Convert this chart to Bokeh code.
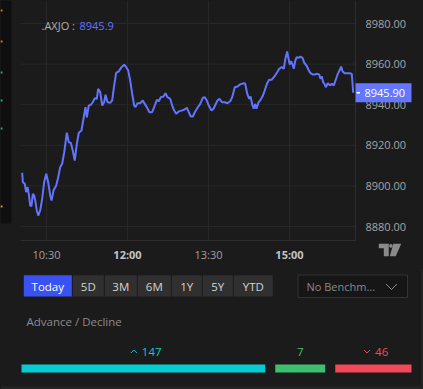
from bokeh.plotting import figure
from bokeh.models import Range1d, ColumnDataSource, GlobalInlineStyleSheet
from bokeh.layouts import column
from bokeh.core.properties import value
from bokeh.embed import file_html
from bokeh.resources import INLINE

# ---------------- data ----------------
symbol = ".AXJO"
last_price = 8945.90
# minutes after the 10:00 session open
minutes = [3.0, 3.7, 5.9, 7.4, 8.9, 10.3, 11.9, 13.3, 14.8, 16.3, 17.8, 19.2, 20.8, 23.0, 25.2,
           27.4, 29.7, 31.9, 34.1, 35.6, 37.8, 40.8, 43.0, 45.2, 47.4, 49.7, 52.6, 54.8, 57.0, 59.2,
           61.4, 63.7, 65.9, 68.9, 71.1, 73.3, 74.8, 77.0, 79.2, 81.4, 83.7, 85.9, 87.4, 89.7, 91.9,
           94.1, 95.6, 97.8, 100.8, 103.0, 105.2, 107.4, 110.3, 113.3, 116.3, 118.6,
           120.8, 123.0, 125.2, 127.4, 128.9, 131.1, 134.1, 137.0, 139.2, 141.4, 144.4, 147.4, 150.3,
           152.6, 154.8, 157.0, 160.0, 162.2, 164.4, 167.4, 169.7, 171.9, 174.1, 177.0, 180.0, 183.0,
           185.9, 188.1, 190.3, 192.6, 194.8, 197.8, 200.8, 203.7, 205.9, 208.1, 210.3, 213.3, 215.6,
           217.8, 220.0, 222.2, 225.2, 228.1, 231.1, 234.1, 236.3, 239.2, 242.2, 245.2,
           249.2, 250.8, 253.0, 255.2, 256.7, 258.9, 260.3, 261.9, 263.3, 265.6, 267.8, 270.0, 272.2,
           275.2, 277.4, 280.3, 283.3, 286.3, 288.6, 291.4, 293.7, 295.2, 297.4, 298.9, 300.3, 301.9,
           303.3, 304.8, 306.3, 307.8, 310.0, 312.2, 314.4, 316.7, 318.9, 321.1, 323.3, 325.6, 327.8,
           330.8, 333.0, 334.4, 335.9, 337.4, 338.9, 340.3, 342.6, 344.8, 347.0, 349.2, 351.4, 353.7,
           355.9, 357.4, 358.9, 361.1, 364.1, 367.0, 369.2, 370.8]
prices = [8906.5, 8901.8, 8901.0, 8896.9, 8899.4, 8896.1, 8890.3, 8890.0, 8896.1, 8895.3, 8892.0,
          8887.9, 8885.4, 8887.9, 8893.6, 8901.8, 8906.0, 8901.8, 8895.3, 8892.8, 8897.7, 8900.2,
          8904.3, 8909.2, 8910.9, 8916.6, 8926.2, 8921.5, 8921.2, 8917.4, 8912.5, 8920.7, 8926.2,
          8927.3, 8933.1, 8938.8, 8933.8, 8939.6, 8939.9, 8941.2, 8943.2, 8942.9, 8947.8, 8946.2,
          8939.6, 8941.2, 8944.9, 8941.2, 8940.9, 8942.1, 8949.5, 8955.7, 8956.4, 8958.5, 8959.7,
          8958.5,
          8956.8, 8951.9, 8945.4, 8939.6, 8938.8, 8940.7, 8940.7, 8942.1, 8940.4, 8938.8, 8936.3,
          8936.3, 8939.6, 8942.4, 8941.7, 8943.7, 8944.0, 8945.7, 8943.7, 8942.9, 8939.6, 8937.1,
          8935.5, 8936.7, 8937.1, 8937.5, 8938.5, 8936.3, 8934.2, 8934.2, 8936.3, 8938.5, 8940.4,
          8943.4, 8943.7, 8942.1, 8939.6, 8937.1, 8938.0, 8940.1, 8942.1, 8942.9, 8941.2, 8941.2,
          8940.7, 8941.7, 8943.7, 8948.6, 8949.0, 8950.0,
          8950.6, 8950.3, 8945.4, 8942.9, 8944.0, 8939.6, 8938.0, 8940.4, 8938.0, 8941.2, 8942.4,
          8944.0, 8946.7, 8950.6, 8952.3, 8952.3, 8953.9, 8956.0, 8957.7, 8958.5, 8957.7, 8962.1,
          8966.2, 8962.6, 8959.8, 8961.4, 8959.8, 8957.7, 8961.4, 8963.4, 8963.1, 8963.7, 8963.1,
          8960.4, 8959.3, 8957.2, 8955.5, 8954.9, 8954.9, 8955.2, 8954.9, 8952.8, 8953.9, 8951.1,
          8950.3, 8948.6, 8950.6, 8949.5, 8950.3, 8949.5, 8952.3, 8955.2, 8957.2, 8958.8, 8956.5,
          8955.5, 8955.5, 8955.5, 8955.2, 8945.9]
time_ticks = [30, 120, 210, 300]
time_labels = ["10:30", "12:00", "13:30", "15:00"]
time_bold = [False, True, False, True]
price_ticks = [8880, 8900, 8920, 8940, 8960, 8980]
periods = ["Today", "5D", "3M", "6M", "1Y", "5Y", "YTD"]
ad_names = ["advance", "unchanged", "decline"]
ad_values = [147, 7, 46]

# ---------------- styles ----------------
FONT = "Open Sans"
BG = "#1b1b1b"
GRID = "#272727"
BORDER = "#2e2e2e"
LINE = "#6274ff"
TAG = "#6677ff"
AXIS_TXT = "#a6a6a6"
AD_COLORS = ["#06cdd3", "#3dbf6f", "#f2495b"]
W = 423

# screen layout of the chart panel: 10:00 sits at 19px, 0.9 px per minute;
# 8980 sits at 23px, 2.03 px per index point
X0_PX, PX_PER_MIN = 19.0, 0.9
Y0_PX, Y0_VAL, PX_PER_PT = 23.0, 8980.0, 2.03


def mx(px):
    return (px - X0_PX) / PX_PER_MIN


def vy(py):
    return Y0_VAL - (py - Y0_PX) / PX_PER_PT


H1 = 268
CHART_LEFT, CHART_RIGHT = mx(20), mx(355)
CHART_FLOOR, CHART_TOP = vy(240), vy(0)

p = figure(width=W, height=H1, x_range=Range1d(mx(0), mx(W)), y_range=Range1d(vy(H1), vy(0)),
           output_backend="svg", toolbar_location=None, x_axis_location=None,
           y_axis_location=None, min_border=0, background_fill_color=BG,
           border_fill_color=BG, outline_line_color=None)
p.xgrid.visible = False
p.ygrid.visible = False

# neighbouring panel strip on the far left
p.quad(left=[mx(0)], right=[mx(11)], top=[vy(0)], bottom=[vy(223)], fill_color="#0f0f0f",
       line_color=None)
mark_y = [10, 41, 72, 100, 128, 206]
mark_c = ["#d9791c", "#d9791c", "#1fb866", "#1fb866", "#1fb866", "#c9a227"]
p.quad(left=[mx(0)] * 6, right=[mx(2)] * 6, top=[vy(y - 1) for y in mark_y],
       bottom=[vy(y + 1) for y in mark_y], fill_color=mark_c, line_color=None)

# grid
p.segment(x0=[CHART_LEFT] * len(price_ticks), y0=price_ticks,
          x1=[CHART_RIGHT] * len(price_ticks), y1=price_ticks, line_color=GRID, line_width=1)
p.segment(x0=time_ticks, y0=[CHART_FLOOR] * 4, x1=time_ticks, y1=[CHART_TOP] * 4,
          line_color=GRID, line_width=1)
p.segment(x0=[CHART_LEFT], y0=[CHART_FLOOR], x1=[CHART_RIGHT], y1=[CHART_FLOOR],
          line_color=BORDER, line_width=1)
p.segment(x0=[CHART_RIGHT], y0=[CHART_FLOOR], x1=[CHART_RIGHT], y1=[CHART_TOP],
          line_color=BORDER, line_width=1)

# price series
p.line(minutes, prices, line_color=LINE, line_width=2)

# time scale labels
tsrc = ColumnDataSource(dict(x=time_ticks, y=[vy(254)] * 4, t=time_labels,
                             s=["bold" if b else "normal" for b in time_bold],
                             c=["#c4c4c4" if b else "#a0a0a0" for b in time_bold]))
p.text(x="x", y="y", text="t", source=tsrc, text_font=value(FONT), text_font_size="11px",
       text_font_style="s", text_color="c", text_align="center", text_baseline="middle")

# price scale labels
p.text(x=[mx(365)] * len(price_ticks), y=price_ticks, text=[f"{t:.2f}" for t in price_ticks],
       text_font=value(FONT), text_font_size="11px", text_color=AXIS_TXT,
       text_align="left", text_baseline="middle")

# last price tag
half = 9.5 / PX_PER_PT
p.quad(left=[mx(355)], right=[mx(411)], top=[last_price + half], bottom=[last_price - half],
       fill_color=TAG, line_color=None)
p.segment(x0=[mx(356)], y0=[last_price], x1=[mx(359.5)], y1=[last_price],
          line_color="#ffffff", line_width=1.5)
p.text(x=[mx(364)], y=[last_price], text=[f"{last_price:.2f}"], text_font=value(FONT),
       text_font_size="11px", text_color="#ffffff", text_align="left", text_baseline="middle")

# legend
p.text(x=[mx(41)], y=[vy(25)], text=[symbol + " :"], text_font=value(FONT),
       text_font_size="11px", text_color="#b0b0b0", text_align="left", text_baseline="middle")
p.text(x=[mx(79)], y=[vy(25)], text=[f"{last_price:.1f}"], text_font=value(FONT),
       text_font_size="11px", text_color=LINE, text_align="left", text_baseline="middle")

# TradingView logo
LOGO = "#8a8a8a"
p.patches(xs=[[mx(378.3), mx(388.3), mx(388.3), mx(383.3), mx(383.3), mx(378.3)],
              [mx(392.8), mx(400.7), mx(395.3), mx(389.3)]],
          ys=[[vy(243.3), vy(243.3), vy(255.7), vy(255.7), vy(247.7), vy(247.7)],
              [vy(243.3), vy(243.3), vy(255.7), vy(255.7)]],
          fill_color=LOGO, line_color=None)
p.ellipse(x=[mx(390.4)], y=[vy(245.4)], width=3.6 / PX_PER_MIN, height=3.6 / PX_PER_PT,
          fill_color=LOGO, line_color=None)

# ---------------- lower panel ----------------
H2 = 389 - H1
q = figure(width=W, height=H2, x_range=Range1d(0, W), y_range=Range1d(389, H1),
           output_backend="svg", toolbar_location=None, x_axis_location=None,
           y_axis_location=None, min_border=0, background_fill_color=BG,
           border_fill_color=BG, outline_line_color=None)
q.xgrid.visible = False
q.ygrid.visible = False

btn_w = [48, 31, 32, 33, 30, 30, 39]
lefts, rights = [], []
x = 23.3
for w in btn_w:
    lefts.append(x)
    rights.append(x + w)
    x += w + 1
bsrc = ColumnDataSource(dict(l=lefts, r=rights, t=[274.7] * 7, b=[296.0] * 7,
                             f=["#3a52f4"] + ["#303030"] * 6,
                             c=["#ffffff"] + ["#d4d4d4"] * 6,
                             xm=[(a + b) / 2 for a, b in zip(lefts, rights)],
                             ym=[285.6] * 7, txt=periods))
q.quad(left="l", right="r", top="t", bottom="b", fill_color="f", line_color=None, source=bsrc)
q.text(x="xm", y="ym", text="txt", source=bsrc, text_font=value(FONT), text_font_size="11.5px",
       text_color="c", text_align="center", text_baseline="middle")

# benchmark dropdown
q.quad(left=[297.5], right=[407], top=[274.5], bottom=[297], fill_color="#161616",
       line_color="#333333", line_width=1)
q.text(x=[306], y=[286], text=["No Benchm..."], text_font=value(FONT), text_font_size="11px",
       text_color="#8a8a8a", text_align="left", text_baseline="middle")
q.line([385.5, 391, 396.5], [283.5, 289, 283.5], line_color="#8a8a8a", line_width=1)

q.text(x=[26], y=[321], text=["Advance / Decline"], text_font=value(FONT),
       text_font_size="11.5px", text_color="#8c8c8c", text_align="left", text_baseline="middle")

# advance / decline bars
AD_LEFT, AD_RIGHT, AD_GAP, AD_MIN = 21, 411, 10, 50
avail = (AD_RIGHT - AD_LEFT) - AD_GAP * (len(ad_values) - 1)
total = sum(ad_values)
small = [v / total * avail < AD_MIN for v in ad_values]
rest = avail - AD_MIN * sum(small)
big_total = sum(v for v, s in zip(ad_values, small) if not s)
widths = [AD_MIN if s else v / big_total * rest for v, s in zip(ad_values, small)]
bl, br = [], []
x = AD_LEFT
for w in widths:
    bl.append(x)
    br.append(x + w)
    x += w + AD_GAP
q.quad(left=bl, right=br, top=[364] * 3, bottom=[372] * 3, fill_color=AD_COLORS, line_color=None)

centers = [(a + b) / 2 for a, b in zip(bl, br)]
for i, (v, c) in enumerate(zip(ad_values, centers)):
    txt = str(v)
    if i == 1:
        q.text(x=[c], y=[351], text=[txt], text_font=value(FONT), text_font_size="11.5px",
               text_color=AD_COLORS[i], text_align="center", text_baseline="middle")
    else:
        nl = c + 8.1 - 3.2 * len(txt)
        q.text(x=[nl], y=[351], text=[txt], text_font=value(FONT), text_font_size="11.5px",
               text_color=AD_COLORS[i], text_align="left", text_baseline="middle")
        ax = nl - 8
        if i == 0:
            q.line([ax - 3, ax, ax + 3], [352.5, 349.5, 352.5], line_color=AD_COLORS[i], line_width=1)
        else:
            q.line([ax - 3, ax, ax + 3], [349.5, 352.5, 349.5], line_color=AD_COLORS[i], line_width=1)

# panel frame edges
q.quad(left=[0], right=[W], top=[386], bottom=[389], fill_color="#252525", line_color=None)
q.segment(x0=[421.5], y0=[H1], x1=[421.5], y1=[386], line_color="#2c2c2c", line_width=1)

layout = column(p, q, spacing=0,
                stylesheets=[GlobalInlineStyleSheet(css="body { background: #1b1b1b; }")])

open("out.html", "w").write(file_html(layout, INLINE))
